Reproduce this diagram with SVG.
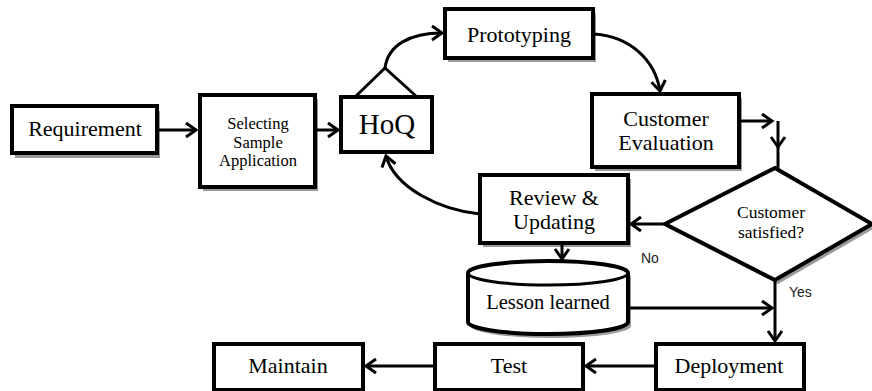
<svg xmlns="http://www.w3.org/2000/svg" width="872" height="391" viewBox="0 0 872 391">
<defs>
<marker id="arr" viewBox="-13 -9 16 18" markerWidth="16" markerHeight="18" refX="0" refY="0" orient="auto" markerUnits="userSpaceOnUse">
<path d="M-10,-7 L0,0 L-10,7" fill="none" stroke="#000" stroke-width="3"/>
</marker>
</defs>
<style>
.box{fill:#fff;stroke:#000;stroke-width:4}
.sh{fill:#9a9a9a;stroke:none}
.t{fill:#000;text-anchor:middle}
.s{fill:#222;font-size:14px}
.c{fill:none;stroke:#000;stroke-width:3}
</style>
<rect width="872" height="391" fill="#fff"/>
<g font-family="'Liberation Serif', 'Times New Roman', 'DejaVu Serif', serif">
<g id="requirement">
<rect class="sh" x="15" y="111" width="145" height="47"/>
<rect class="box" x="12" y="106" width="145" height="47"/>
<text class="t" x="85" y="136" font-size="22">Requirement</text>
</g>
<g id="selecting">
<rect class="sh" x="203" y="99" width="115" height="92"/>
<rect class="box" x="200" y="95" width="115" height="92"/>
<text class="t" x="258" y="129" font-size="16.5">Selecting</text>
<text class="t" x="258" y="148" font-size="16.5">Sample</text>
<text class="t" x="258" y="166" font-size="16.5">Application</text>
</g>
<g id="hoq">
<polyline points="356,96 385,68 416,96" fill="none" stroke="#000" stroke-width="3"/>
<rect class="box" x="341" y="97" width="91" height="55"/>
<text class="t" x="387" y="134" font-size="29">HoQ</text>
</g>
<g id="prototyping">
<rect class="sh" x="448" y="13" width="148" height="49"/>
<rect class="box" x="445" y="9" width="148" height="49"/>
<text class="t" x="519" y="42" font-size="22">Prototyping</text>
</g>
<g id="evaluation">
<rect class="sh" x="595" y="98" width="147" height="73"/>
<rect class="box" x="592" y="94" width="147" height="73"/>
<text class="t" x="666" y="126" font-size="22">Customer</text>
<text class="t" x="666" y="150" font-size="22">Evaluation</text>
</g>
<g id="decision">
<polygon class="sh" points="778,172 875,228 778,284 668,228"/>
<polygon points="775,168 872,224 775,280 665,224" fill="#fff" stroke="#000" stroke-width="4"/>
<text class="t" x="771" y="218" font-size="17.5">Customer</text>
<text class="t" x="771" y="238" font-size="17.5">satisfied?</text>
</g>
<g id="review">
<rect class="sh" x="483" y="179" width="148" height="68"/>
<rect class="box" x="480" y="175" width="148" height="68"/>
<text class="t" x="554" y="205" font-size="22">Review &amp;</text>
<text class="t" x="554" y="229" font-size="22">Updating</text>
</g>
<g id="lesson">
<path class="sh" d="M471,277 A80,12 0 0 1 631,277 L631,326 A80,12 0 0 1 471,326 Z"/>
<path d="M468,273 A80,12 0 0 1 628,273 L628,322 A80,12 0 0 1 468,322 Z" fill="#fff" stroke="#000" stroke-width="4"/>
<path d="M468,273 A80,12 0 0 0 628,273" fill="none" stroke="#000" stroke-width="3"/>
<text class="t" x="548" y="309" font-size="20.5">Lesson learned</text>
</g>
<g id="deployment">
<rect class="box" x="656" y="344" width="148" height="46"/>
<text class="t" x="729" y="373" font-size="22">Deployment</text>
</g>
<g id="test">
<rect class="box" x="435" y="344" width="148" height="46"/>
<text class="t" x="509" y="373" font-size="22">Test</text>
</g>
<g id="maintain">
<rect class="box" x="214" y="344" width="149" height="46"/>
<text class="t" x="288" y="373" font-size="22">Maintain</text>
</g>
</g>
<g id="connectors">
<line class="c" x1="157" y1="130" x2="196" y2="130" marker-end="url(#arr)"/>
<line class="c" x1="315" y1="130" x2="338" y2="130" marker-end="url(#arr)"/>
<path class="c" d="M385,68 C388,45 410,33 442,33" marker-end="url(#arr)"/>
<path class="c" d="M593,34 C630,36 655,60 660,91" marker-end="url(#arr)"/>
<polyline class="c" points="737,121 772,121" marker-end="url(#arr)"/>
<line class="c" x1="778" y1="121" x2="778" y2="147" marker-end="url(#arr)"/>
<line class="c" x1="778" y1="147" x2="778" y2="170"/>
<line class="c" x1="665" y1="224" x2="631" y2="224" marker-end="url(#arr)"/>
<path class="c" d="M480,214 C440,210 395,188 386,156" marker-end="url(#arr)"/>
<line class="c" x1="562" y1="243" x2="562" y2="259" marker-end="url(#arr)"/>
<line class="c" x1="628" y1="308" x2="772" y2="308" marker-end="url(#arr)"/>
<line class="c" x1="775" y1="280" x2="775" y2="341" marker-end="url(#arr)"/>
<line class="c" x1="656" y1="366" x2="586" y2="366" marker-end="url(#arr)"/>
<line class="c" x1="435" y1="366" x2="366" y2="366" marker-end="url(#arr)"/>
</g>
<g font-family="'Liberation Sans', Arial, sans-serif">
<text class="s" x="641" y="263">No</text>
<text class="s" x="789" y="297">Yes</text>
</g>
</svg>
